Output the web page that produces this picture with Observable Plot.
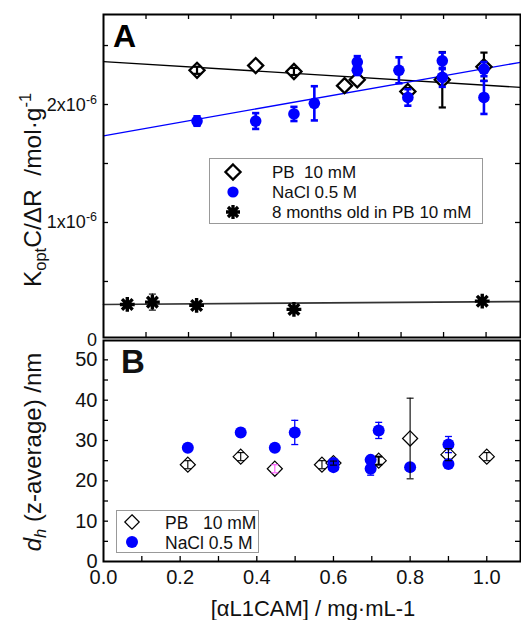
<!DOCTYPE html>
<html><head><meta charset="utf-8">
<script src="https://cdn.jsdelivr.net/npm/d3@7"></script>
<script src="https://cdn.jsdelivr.net/npm/@observablehq/plot@0.6"></script>
<style>
body{margin:0;background:#fff;font-family:'Liberation Sans',Arial,sans-serif;}
#wrap{position:relative;width:521px;height:620px;overflow:hidden;background:#fff;}
#wrap svg{position:absolute;left:0;overflow:visible;}
</style></head><body><div id="wrap"></div>
<script>
// ---------- Panel A : Kopt C/ΔR (mol·g-1) ----------
const pbX   = [0.22, 0.358, 0.448, 0.567, 0.597, 0.716, 0.797, 0.895, 1.0];
const pbY   = [2.29e-6, 2.33e-6, 2.28e-6, 2.16e-6, 2.21e-6, 2.11e-6, 2.21e-6, 2.32e-6, 2.03e-6];
const pbErr = [0.03e-6, 0, 0.03e-6, 0, 0, 0.03e-6, 0.235e-6, 0.12e-6, 0];
const naX   = [0.22, 0.358, 0.448, 0.496, 0.597, 0.597, 0.695, 0.716, 0.797, 0.797, 0.895, 0.895];
const naY   = [1.86e-6, 1.86e-6, 1.92e-6, 2.01e-6, 2.36e-6, 2.29e-6, 2.29e-6, 2.06e-6, 2.37e-6, 2.23e-6, 2.30e-6, 2.06e-6];
const naErr = [0.04e-6, 0.067e-6, 0.06e-6, 0.145e-6, 0.05e-6, 0.04e-6, 0.11e-6, 0.07e-6, 0.07e-6, 0.08e-6, 0.06e-6, 0.14e-6];
const oldX   = [0.056, 0.115, 0.219, 0.448, 0.891];
const oldY   = [0.305e-6, 0.325e-6, 0.297e-6, 0.263e-6, 0.333e-6];
const oldErr = [0, 0.068e-6, 0, 0, 0];
const fitSeries    = ["PB 10 mM", "NaCl 0.5 M", "8 months old in PB 10 mM"];
const fitIntercept = [2.364e-6, 1.735e-6, 0.305e-6];
const fitSlope     = [-0.223e-6, 0.635e-6, 0.025e-6];
const aYTicks = [0, 1e-6, 2e-6];

// ---------- Panel B : dh (z-average) /nm ----------
const dPbX   = [0.22, 0.358, 0.447, 0.57, 0.6, 0.718, 0.8, 0.9, 1.0];
const dPbY   = [24.0, 26.0, 23.0, 24.0, 24.4, 25.0, 30.5, 26.5, 26.0];
const dPbErr = [1.0, 1.0, 1.0, 1.0, 0.5, 1.0, 10.0, 1.5, 1.0];
const dNaX   = [0.22, 0.358, 0.447, 0.499, 0.6, 0.6, 0.697, 0.697, 0.718, 0.8, 0.9, 0.9];
const dNaY   = [28.2, 32.0, 28.2, 32.0, 24.4, 23.4, 25.2, 23.0, 32.5, 23.4, 29.0, 24.2];
const dNaErr = [0.5, 1.0, 0.3, 3.0, 0.5, 0.5, 0.5, 1.6, 2.0, 0.5, 2.0, 0.5];
const bXTicks = [0, 0.2, 0.4, 0.6, 0.8, 1.0];
const bYTicks = [0, 10, 20, 30, 40, 50];

const legendA = ["PB  10 mM", "NaCl 0.5 M", "8 months old in PB 10 mM"];
const legendB = ["PB   10 mM", "NaCl 0.5 M"];
const xTitle = "[\u03B1L1CAM] / mg\u00B7mL-1";

// ---------- helpers ----------
const FONT = "'Liberation Sans', Arial, Helvetica, sans-serif";
const BLUE = "#0000ff";
const rows = (X, Y, E) => X.map((x, i) => ({x, y: Y[i], err: E[i], i}));
const hline = {draw(ctx, size) { const w = Math.sqrt(size / Math.PI); ctx.moveTo(-w, 0); ctx.lineTo(w, 0); }};
const starSym = {draw(ctx, size) {
  const r = Math.sqrt(size / Math.PI), d = r * 0.72;
  ctx.moveTo(0, -r); ctx.lineTo(0, r); ctx.moveTo(-r, 0); ctx.lineTo(r, 0);
  ctx.moveTo(-d, -d); ctx.lineTo(d, d); ctx.moveTo(-d, d); ctx.lineTo(d, -d);
}};
function errorMarks(data, stroke, strokeWidth, cap) {
  const d = data.filter(p => p.err > 0);
  return [
    Plot.ruleX(d, {x: "x", y1: p => p.y - p.err, y2: p => p.y + p.err, stroke, strokeWidth, clip: true}),
    Plot.dot(d, {x: "x", y: p => p.y + p.err, symbol: hline, r: cap, stroke, strokeWidth, fill: "none", clip: true}),
    Plot.dot(d, {x: "x", y: p => p.y - p.err, symbol: hline, r: cap, stroke, strokeWidth, fill: "none", clip: true})
  ];
}
function tickMarks(xt, yt, iw, ih, len, top) {
  const m = [
    Plot.ruleX(xt, {x: d => d, insetTop: ih - len, stroke: "black", strokeWidth: 1.3}),
    Plot.ruleY(yt, {y: d => d, insetRight: iw - len, stroke: "black", strokeWidth: 1.3}),
    Plot.ruleY(yt, {y: d => d, insetLeft: iw - len, stroke: "black", strokeWidth: 1.3})
  ];
  if (top) m.push(Plot.ruleX(xt, {x: d => d, insetBottom: ih - len, stroke: "black", strokeWidth: 1.3}));
  return m;
}

// ---------- Panel A ----------
const aX = [0, 0.981];
const pb = rows(pbX, pbY, pbErr), na = rows(naX, naY, naErr), old = rows(oldX, oldY, oldErr);
const fits = fitSeries.flatMap((s, k) => aX.map(x => ({series: s, x, y: fitIntercept[k] + fitSlope[k] * x})));
const aTop = 14, aBot = 337, aH = 340;
const A = Plot.plot({
  width: 521, height: aH,
  marginLeft: 103, marginRight: 1, marginTop: aTop, marginBottom: aH - aBot,
  x: {domain: aX, axis: null},
  y: {domain: [0.025e-6, 2.763e-6], axis: null},
  style: {background: "transparent", overflow: "visible", fontFamily: FONT},
  marks: [
    ...tickMarks(d3.range(1, 10).map(d => d / 10), [0.5e-6, 1e-6, 1.5e-6, 2e-6, 2.5e-6], 417, aBot - aTop, 5, true),
    Plot.line(fits.filter(d => d.series === fitSeries[0]), {x: "x", y: "y", stroke: "black", strokeWidth: 1.3}),
    Plot.line(fits.filter(d => d.series === fitSeries[1]), {x: "x", y: "y", stroke: BLUE, strokeWidth: 1.3}),
    Plot.line(fits.filter(d => d.series === fitSeries[2]), {x: "x", y: "y", stroke: "#333", strokeWidth: 1.6}),
    Plot.dot(pb, {x: "x", y: "y", symbol: "diamond2", r: 6.8, fill: "white", stroke: "black", strokeWidth: 2.3, clip: true}),
    ...errorMarks(pb, "black", 2.2, 3.6),
    ...errorMarks(na, BLUE, 2.6, 3.6),
    Plot.dot(na, {x: "x", y: "y", r: 5.8, fill: BLUE, stroke: "none"}),
    ...errorMarks(old, "black", 1.1, 3.5),
    Plot.dot(old, {x: "x", y: "y", symbol: starSym, r: 7.4, fill: "none", stroke: "black", strokeWidth: 3.4}),
    Plot.frame({stroke: "black", strokeWidth: 2})
  ]
});
A.style.top = "0px";

// ---------- Panel B ----------
const bTopOff = 330, bTop = 10, bH = 290, bBotAbs = 561;
const dpb = rows(dPbX, dPbY, dPbErr), dna = rows(dNaX, dNaY, dNaErr);
const B = Plot.plot({
  width: 521, height: bH,
  marginLeft: 103, marginRight: 1, marginTop: bTop, marginBottom: bH - (bBotAbs - bTopOff),
  x: {domain: [0, 1.088], ticks: bXTicks, tickFormat: d3.format(".1f"), tickSize: 0, tickPadding: 8, label: null},
  y: {domain: [0, 54.8], ticks: bYTicks, tickSize: 0, tickPadding: 6, label: null},
  style: {background: "transparent", overflow: "visible", fontFamily: FONT, fontSize: "20px", color: "#111"},
  marks: [
    ...tickMarks(d3.range(1, 11).map(d => d / 10), d3.range(5, 55, 5), 417, bBotAbs - bTopOff - bTop, 5, false),
    Plot.dot(dpb, {x: "x", y: "y", symbol: "diamond2", r: 6.8, fill: "white", stroke: "black", strokeWidth: 1.2}),
    Plot.dot(dna, {x: "x", y: "y", r: 6, fill: BLUE, stroke: "none"}),
    ...errorMarks(dna, BLUE, 1.3, 3.5),
    ...errorMarks(dpb.filter(d => d.i !== 2 && d.i !== 5), "black", 1.1, 3.5),
    ...errorMarks(dpb.filter(d => d.i === 2), "#ff55ff", 1.1, 3.5),
    ...errorMarks(dpb.filter(d => d.i === 5), "black", 2, 3.5),
    Plot.frame({stroke: "black", strokeWidth: 2})
  ]
});
B.style.top = bTopOff + "px";

const wrap = document.getElementById("wrap");
wrap.appendChild(A);
wrap.appendChild(B);

// ---------- text & legends ----------
const sa = d3.select(A), sb = d3.select(B);
const yA = A.scale("y");
// panel A y tick labels
aYTicks.forEach(v => {
  const t = sa.append("text").attr("x", 97).attr("y", yA.apply(v) + 6.5)
    .attr("text-anchor", "end").attr("font-family", FONT).attr("font-size", 18).attr("fill", "#111");
  if (v === 0) t.text("0");
  else {
    t.append("tspan").text(Math.round(v * 1e6) + "x10");
    t.append("tspan").attr("dy", -7).attr("font-size", 12.5).text("-6");
  }
});
// panel letters
sa.append("text").attr("x", 113).attr("y", 47).attr("text-anchor", "start").attr("font-family", FONT)
  .attr("font-weight", "bold").attr("font-size", 32).text("A");
sb.append("text").attr("x", 121).attr("y", 373 - bTopOff).attr("text-anchor", "start").attr("font-family", FONT)
  .attr("font-weight", "bold").attr("font-size", 33).text("B");

// y title A
{
  const t = sa.append("text").attr("transform", "translate(41,190) rotate(-90)").attr("text-anchor", "middle")
    .attr("font-family", FONT).attr("font-size", 24.5).attr("fill", "#111").style("white-space", "pre");
  t.append("tspan").text("K");
  t.append("tspan").attr("dy", 5).attr("font-size", 16.5).text("opt");
  t.append("tspan").attr("dy", -5).text("C/\u0394R  /mol\u00B7g");
  t.append("tspan").attr("dy", -10).attr("font-size", 16.5).text("-1");
}
// y title B
{
  const t = sb.append("text").attr("transform", `translate(41,${452 - bTopOff}) rotate(-90)`).attr("text-anchor", "middle")
    .attr("font-family", FONT).attr("font-size", 24).attr("fill", "#111").style("white-space", "pre");
  t.append("tspan").attr("font-style", "italic").text("d");
  t.append("tspan").attr("dy", 5).attr("font-size", 16.5).attr("font-style", "italic").text("h");
  t.append("tspan").attr("dy", -5).text(" (z-average) /nm");
}
// x title
sb.append("text").attr("x", 313).attr("y", 616 - bTopOff).attr("text-anchor", "middle")
  .attr("font-family", FONT).attr("font-size", 22).attr("fill", "#111").text(xTitle);

// legend A
{
  const g = sa.append("g");
  g.append("rect").attr("x", 209.5).attr("y", 158.5).attr("width", 273).attr("height", 65)
    .attr("fill", "white").attr("stroke", "#999").attr("stroke-width", 1);
  const ys = [172, 192, 212];
  g.append("path").attr("transform", `translate(233,${ys[0]})`).attr("d", d3.symbol(d3.symbolDiamond2, 6.8 * 6.8 * Math.PI)())
    .attr("fill", "white").attr("stroke", "black").attr("stroke-width", 2.3);
  g.append("circle").attr("cx", 233).attr("cy", ys[1]).attr("r", 5.6).attr("fill", BLUE);
  g.append("path").attr("transform", `translate(233,${ys[2]})`).attr("d", d3.symbol(starSym, 7 * 7 * Math.PI)())
    .attr("fill", "none").attr("stroke", "black").attr("stroke-width", 3.3);
  legendA.forEach((s, i) => g.append("text").attr("x", 272).attr("y", ys[i] + 6).attr("text-anchor", "start")
    .attr("font-family", FONT).attr("font-size", 17).attr("fill", "#111").style("white-space", "pre").text(s));
}
// legend B
{
  const g = sb.append("g").attr("transform", `translate(0,${-bTopOff})`);
  g.append("rect").attr("x", 116.5).attr("y", 510.5).attr("width", 142).attr("height", 42)
    .attr("fill", "white").attr("stroke", "#999").attr("stroke-width", 1);
  const ys = [522, 542];
  g.append("path").attr("transform", `translate(132,${ys[0]})`).attr("d", d3.symbol(d3.symbolDiamond2, 6.5 * 6.5 * Math.PI)())
    .attr("fill", "white").attr("stroke", "black").attr("stroke-width", 1.2);
  g.append("circle").attr("cx", 132).attr("cy", ys[1]).attr("r", 6).attr("fill", BLUE);
  legendB.forEach((s, i) => g.append("text").attr("x", 165).attr("y", ys[i] + 6.5).attr("text-anchor", "start")
    .attr("font-family", FONT).attr("font-size", 17.5).attr("fill", "#111").style("white-space", "pre").text(s));
}
</script></body></html>
